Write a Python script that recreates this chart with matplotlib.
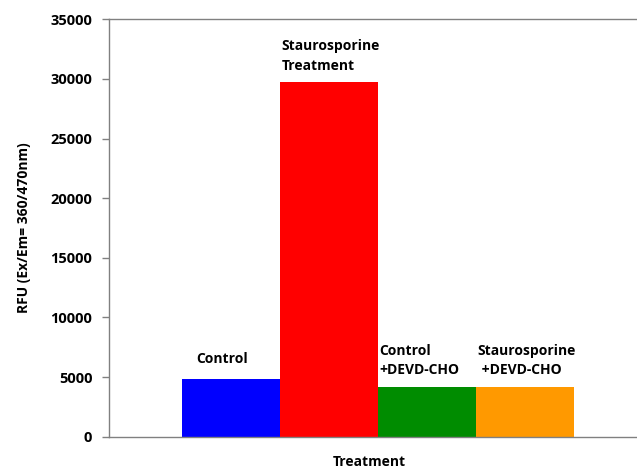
"""Bar chart of caspase-3 activity (RFU) per treatment."""

import matplotlib
matplotlib.use("Agg")
import matplotlib.pyplot as plt

categories = ["Control", "Staurosporine\nTreatment", "Control\n+DEVD-CHO", "Staurosporine\n +DEVD-CHO"]
rfu = [4810, 29720, 4190, 4190]
colors = ["#0000FF", "#FF0000", "#008C00", "#FF9900"]


def main():
    plt.rcParams["font.family"] = ["Open Sans", "DejaVu Sans"]
    fig = plt.figure(figsize=(6.37, 4.70), dpi=100)
    ax = fig.add_axes([0.171, 0.071, 0.829, 0.888])

    x = list(range(len(rfu)))
    ax.bar(x, rfu, width=1.0, color=colors)

    # labels above each bar
    for i, (name, v) in enumerate(zip(categories, rfu)):
        if i == 0:
            ax.text(i - 0.09, v + 1150, name, ha="center", va="bottom",
                    fontsize=10, fontweight="bold")
        else:
            ax.text(i - 0.485, v + 800, name, ha="left", va="bottom",
                    fontsize=10, fontweight="bold", linespacing=1.5)

    ax.set_xlim(-1.245, 4.14)
    ax.set_ylim(0, 35000)
    ax.set_yticks(range(0, 35001, 5000))
    ax.set_xticks([])
    ax.tick_params(axis="y", direction="out", length=5, color="#808080",
                   labelsize=10.5, width=1, pad=7)
    for lbl in ax.get_yticklabels():
        lbl.set_fontweight("bold")

    for side in ["left", "top", "bottom"]:
        ax.spines[side].set_color("#808080")
        ax.spines[side].set_linewidth(1)
    ax.spines["right"].set_visible(False)

    ax.set_ylabel("RFU (Ex/Em= 360/470nm)", fontsize=10, fontweight="bold", labelpad=14)
    fig.text(0.579, 0.002, "Treatment", ha="center", va="bottom",
             fontsize=10, fontweight="bold")

    fig.savefig("out.png", dpi=100)


if __name__ == "__main__":
    main()
